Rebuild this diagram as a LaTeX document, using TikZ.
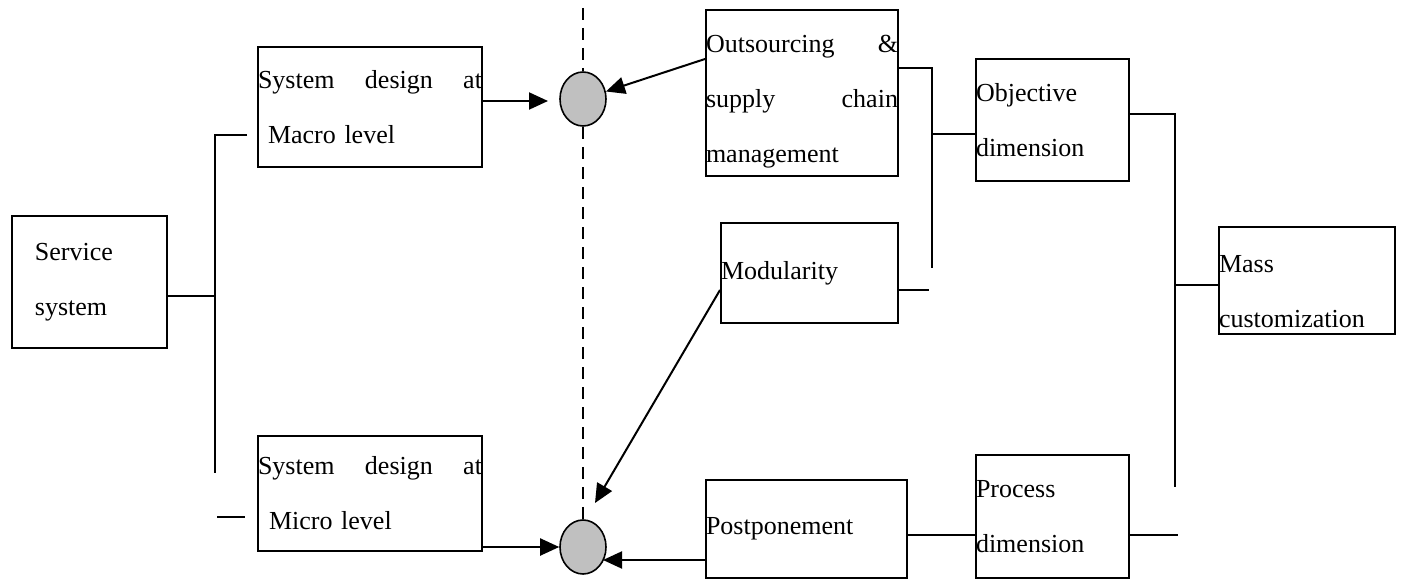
\documentclass[tikz,border=0pt]{standalone}
\usepackage{fontspec}
\setmainfont{Liberation Serif}
\usetikzlibrary{arrows.meta,shapes.geometric}
\definecolor{hubgray}{RGB}{192,192,192}
\newcommand\boxfont{\fontsize{26}{55}\selectfont}

\begin{document}
\begin{tikzpicture}[x=1pt,y=-1pt,line width=2pt,
  box/.style={draw,align=left,inner xsep=0pt,inner ysep=0pt,font=\boxfont},
  hub/.style={draw,ellipse,fill=hubgray,line width=1.6pt,minimum width=46pt,minimum height=54pt,inner sep=0pt},
  arr/.style={-{Triangle[length=19pt,width=17pt]}}]
\useasboundingbox (0,0) rectangle (1408,580);
\node[box,text width=155pt,minimum height=132pt] (S) at (89.5,282){%
\hspace*{23pt}Service\\
\hspace*{23pt}system};
\node[box,text width=224pt,minimum height=120pt] (MA) at (370,107){%
System\hfill design\hfill at\\
\hspace*{10pt}Macro level};
\node[box,text width=224pt,minimum height=115pt] (MI) at (370,493.5){%
System\hfill design\hfill at\\
\hspace*{11pt}Micro level};
\node[box,text width=192pt,minimum height=166pt] (O) at (802,93){%
\rule{0pt}{34pt}Outsourcing\hfill \&\\
supply\hfill chain\\
management};
\node[box,text width=177pt,minimum height=100pt] (M) at (809.5,273){Modularity};
\node[box,text width=201pt,minimum height=98pt] (P) at (806.5,529){Postponement};
\node[box,text width=153pt,minimum height=122pt] (OD) at (1052.5,120){%
Objective\\
dimension};
\node[box,text width=153pt,minimum height=123pt] (PD) at (1052.5,516.5){%
Process\\
dimension};
\node[box,text width=176pt,minimum height=107pt] (MC) at (1307,280.5){%
\rule{0pt}{40pt}Mass\\
customization};
\node[hub] (C1) at (583,99){};
\node[hub] (C2) at (583,547){};
\coordinate (A) at (583,8);
\draw[line width=1.5pt,dash pattern=on 12pt off 8pt] (A) -- (C1.north);
\draw[line width=1.5pt,dash pattern=on 12pt off 8pt] (C1.south) -- (C2.north);
\coordinate (T1) at (215,135);
\coordinate (T2) at (215,473);
\coordinate (T3) at (247,135);
\coordinate (T4) at (217,517);
\draw ([yshift=-14pt]S.east) -- +(48,0);
\draw (T3) -- (T1) -- (T2);
\draw (T4) -- +(28,0);
\draw[arr] ([yshift=6pt]MA.east) -- +(65,0);
\draw[arr] ([yshift=-50pt]O.north west) -- (C1);
\draw[arr] (MI.east |- C2.west) -- (C2.west);
\draw[arr] ([yshift=-31pt]P.west) -- ([xshift=20pt,yshift=-13pt]C2.center);
\draw[arr] ([yshift=-17pt]M.west) -- ([xshift=12pt,yshift=44pt]C2.center);
\coordinate (R1) at (932,268);
\coordinate (R2) at (1175,487);
\draw ([yshift=25pt]O.east) -| (R1);
\draw ([yshift=-14pt]OD.west) -- +(-44,0);
\draw ([yshift=-17pt]M.east) -- +(30,0);
\draw ([yshift=6pt]OD.east) -| (R2);
\draw ([yshift=-4.5pt]MC.west) -- +(-44,0);
\draw ([yshift=-6pt]P.east) -- ([yshift=-18.5pt]PD.west);
\draw ([yshift=-18.5pt]PD.east) -- +(48,0);
\end{tikzpicture}
\end{document}
